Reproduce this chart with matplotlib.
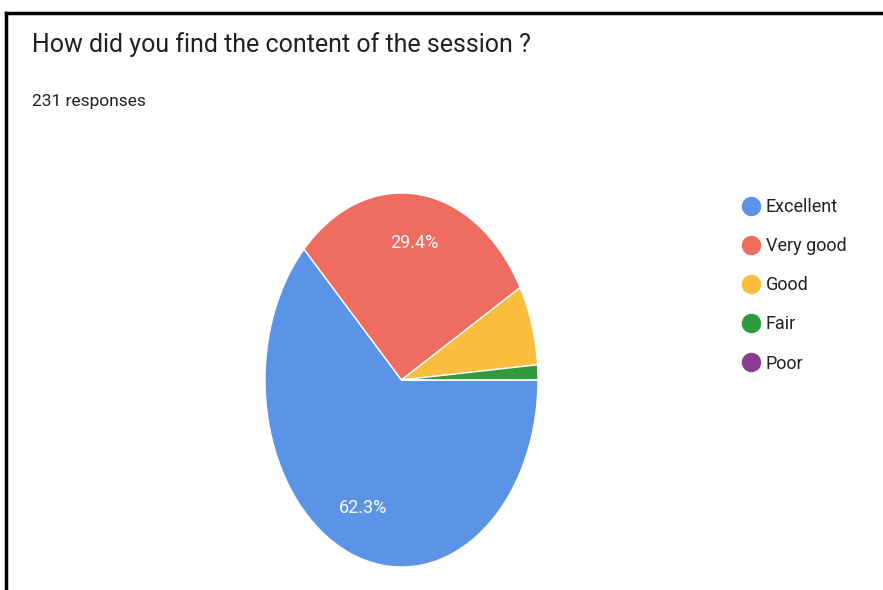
import matplotlib.pyplot as plt
from matplotlib.lines import Line2D

# Daten aus dem Bild
kategorien = ["Excellent", "Very good", "Good", "Fair", "Poor"]
antworten = [144, 68, 16, 3, 0]
farben = ["#5b93e6", "#ee6c60", "#fbbd3e", "#2f9a3e", "#8b3e90"]
titel = "How did you find the content of the session ?"
untertitel = "231 responses"

plt.rcParams["font.family"] = ["Roboto", "DejaVu Sans"]

fig = plt.figure(figsize=(8.83, 5.90), dpi=100)
fig.patch.set_facecolor("white")

# --- Rahmen (oben + links) ---
fig.add_artist(Line2D([6 / 883, 1], [1 - 13 / 590, 1 - 13 / 590], color="black", lw=2.5))
fig.add_artist(Line2D([6 / 883, 6 / 883], [0, 1 - 13 / 590], color="black", lw=2.5))

# --- Titel ---
fig.text(32 / 883, 1 - 45 / 590, titel, fontsize=18, color="#202124", va="center", ha="left")
fig.text(32 / 883, 1 - 102 / 590, untertitel, fontsize=12.5, color="#202124", va="center", ha="left")

# --- Kreisdiagramm (leicht gestaucht wie im Foto) ---
ax = fig.add_axes([265 / 883, 23 / 590, 273 / 883, 374 / 590])


def beschriftung(p):
    return f"{p:.1f}%" if p > 10 else ""


wedges, texte, autotexte = ax.pie(
    antworten,
    colors=farben,
    startangle=0,
    counterclock=False,
    autopct=beschriftung,
    pctdistance=0.74,
    wedgeprops=dict(edgecolor="white", linewidth=1),
    textprops=dict(color="white", fontsize=13),
)
ax.set_aspect("auto")
ax.set_xlim(-1, 1)
ax.set_ylim(-1, 1)
ax.axis("off")

# --- Legende ---
handles = [
    Line2D([0], [0], marker="o", linestyle="", markersize=13,
           markerfacecolor=f, markeredgecolor=f)
    for f in farben
]
fig.legend(
    handles, kategorien,
    loc="upper left",
    bbox_to_anchor=(733 / 883, 1 - 189 / 590),
    frameon=False,
    fontsize=13,
    labelspacing=1.17,
    handletextpad=0.3,
    handlelength=1.0,
    borderpad=0,
    labelcolor="#202124",
)

plt.savefig("out.png", dpi=100)
